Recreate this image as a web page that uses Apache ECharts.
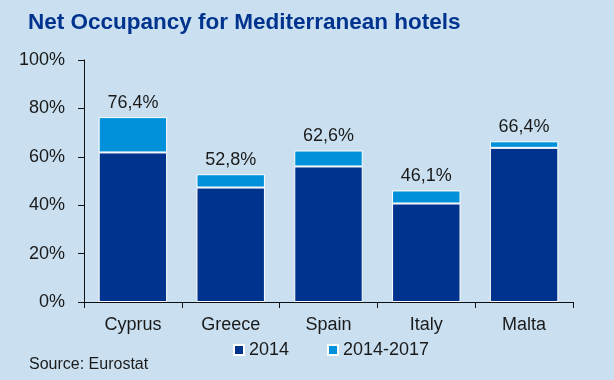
<!DOCTYPE html>
<html>
<head>
<meta charset="utf-8">
<script src="https://cdn.jsdelivr.net/npm/echarts@6/dist/echarts.min.js"></script>
<style>
html,body{margin:0;padding:0;background:#cae0f0;}
#c{width:614px;height:380px;}
</style>
</head>
<body>
<div id="c"></div>
<script>
var categories = ['Cyprus', 'Greece', 'Spain', 'Italy', 'Malta'];
var occ2014 = [61.8, 47.3, 56.0, 40.7, 63.7];
var occ2017 = [76.4, 52.8, 62.6, 46.1, 66.4];
var yTicks = [0, 20, 40, 60, 80, 100];
var seriesNames = ['2014', '2014-2017'];

var increase = occ2017.map(function (v, i) { return +(v - occ2014[i]).toFixed(1); });
var font = 'Liberation Sans, Arial, sans-serif';

var chart = echarts.init(document.getElementById('c'));
chart.setOption({
  backgroundColor: '#cae0f0',
  animation: false,
  title: {
    text: 'Net Occupancy for Mediterranean hotels',
    left: 23, top: 6,
    textStyle: { fontFamily: font, fontWeight: 'bold', fontSize: 22.5, color: '#00338d' }
  },
  grid: { left: 84, right: 41, top: 60, bottom: 78 },
  legend: {
    data: seriesNames,
    left: 228, top: 336,
    itemWidth: 10, itemHeight: 10, itemGap: 38,
    icon: 'rect',
    textStyle: { fontFamily: font, fontSize: 18, color: '#1a1a1a' }
  },
  graphic: [{
    type: 'text', left: 29, top: 357,
    style: { text: 'Source: Eurostat', font: '16px ' + font, fill: '#1a1a1a' }
  }],
  xAxis: {
    type: 'category',
    data: categories,
    axisLine: { lineStyle: { color: '#111', width: 1 } },
    axisTick: { show: true, length: 6, lineStyle: { color: '#111' } },
    axisLabel: { fontFamily: font, fontSize: 18, color: '#1a1a1a', margin: 14 }
  },
  yAxis: {
    type: 'value',
    min: yTicks[0], max: yTicks[yTicks.length - 1], interval: 20,
    splitLine: { show: false },
    axisLine: { show: true, lineStyle: { color: '#111', width: 1 } },
    axisTick: { show: true, length: 6, lineStyle: { color: '#111' } },
    axisLabel: { fontFamily: font, fontSize: 18, color: '#1a1a1a', margin: 19, formatter: '{value}%' }
  },
  series: [
    {
      name: seriesNames[0], type: 'bar', stack: 'a', data: occ2014,
      barWidth: '70%',
      itemStyle: { color: '#00338d', borderColor: '#ffffff', borderWidth: 1 }
    },
    {
      name: seriesNames[1], type: 'bar', stack: 'a', data: increase,
      barWidth: '70%',
      itemStyle: { color: '#0091da', borderColor: '#ffffff', borderWidth: 1 },
      label: {
        show: true, position: 'top', distance: 5,
        fontFamily: font, fontSize: 18, color: '#1a1a1a',
        formatter: function (p) { return occ2017[p.dataIndex].toFixed(1).replace('.', ',') + '%'; }
      }
    }
  ]
});
</script>
</body>
</html>
